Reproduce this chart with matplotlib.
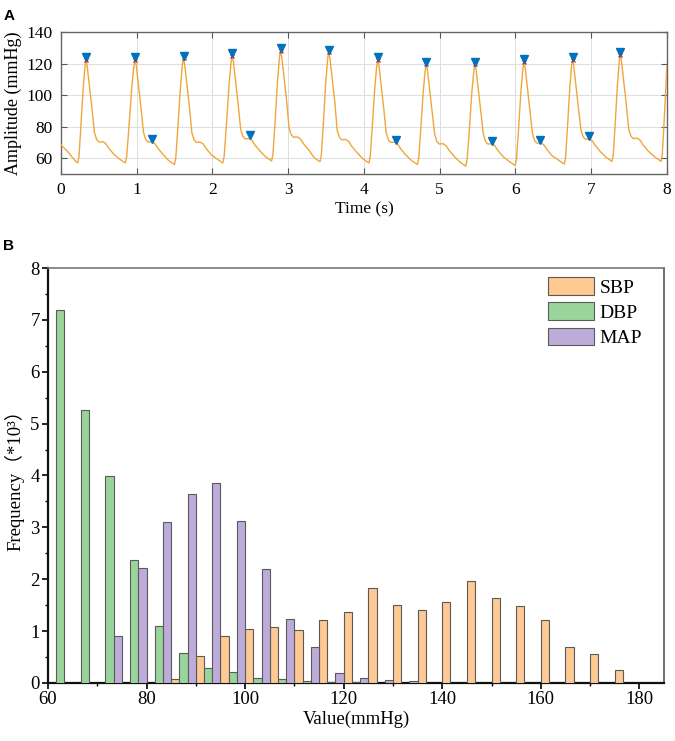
import matplotlib
matplotlib.use("Agg")
import matplotlib.pyplot as plt
import numpy as np

# ---------------- Panel A data ----------------
wave_t = [
    0.000, 0.050, 0.100, 0.150, 0.195,
    0.220, 0.237, 0.262, 0.292, 0.317, 0.331, 0.346, 0.376, 0.411, 0.441, 0.471, 0.501, 0.551, 0.591, 0.631, 0.701, 0.771, 0.821,
    0.847, 0.867, 0.897, 0.933, 0.962, 0.979, 0.994, 1.024, 1.059, 1.089, 1.119, 1.149, 1.199, 1.239, 1.279, 1.349, 1.421, 1.471,
    1.497, 1.515, 1.543, 1.576, 1.602, 1.618, 1.633, 1.663, 1.698, 1.728, 1.758, 1.788, 1.838, 1.878, 1.918, 1.988, 2.059, 2.109,
    2.135, 2.154, 2.183, 2.218, 2.245, 2.262, 2.277, 2.307, 2.342, 2.372, 2.402, 2.432, 2.482, 2.522, 2.562, 2.632, 2.704, 2.754,
    2.780, 2.798, 2.826, 2.858, 2.884, 2.900, 2.915, 2.945, 2.980, 3.010, 3.040, 3.070, 3.120, 3.160, 3.200, 3.270, 3.344, 3.394,
    3.420, 3.437, 3.464, 3.495, 3.521, 3.536, 3.551, 3.581, 3.616, 3.646, 3.676, 3.706, 3.756, 3.796, 3.836, 3.906, 3.989, 4.039,
    4.065, 4.083, 4.110, 4.142, 4.168, 4.184, 4.199, 4.229, 4.264, 4.294, 4.324, 4.354, 4.404, 4.444, 4.484, 4.554, 4.629, 4.679,
    4.705, 4.723, 4.750, 4.782, 4.808, 4.824, 4.839, 4.869, 4.904, 4.934, 4.964, 4.994, 5.044, 5.084, 5.124, 5.194, 5.268, 5.318,
    5.344, 5.362, 5.391, 5.424, 5.451, 5.467, 5.482, 5.512, 5.547, 5.577, 5.607, 5.637, 5.687, 5.727, 5.767, 5.837, 5.920, 5.970,
    5.996, 6.014, 6.041, 6.073, 6.099, 6.115, 6.130, 6.160, 6.195, 6.225, 6.255, 6.285, 6.335, 6.375, 6.415, 6.485, 6.569, 6.619,
    6.645, 6.662, 6.687, 6.717, 6.741, 6.755, 6.770, 6.800, 6.835, 6.865, 6.895, 6.925, 6.975, 7.015, 7.055, 7.125, 7.199, 7.249,
    7.275, 7.292, 7.317, 7.347, 7.371, 7.385, 7.400, 7.430, 7.465, 7.495, 7.525, 7.555, 7.605, 7.645, 7.685, 7.755, 7.847, 7.897,
    7.923, 7.938, 7.960, 7.985, 8.000,
]
wave_v = [
    68.5, 66.0, 63.5, 60.5, 58.0,
    57.0, 61.0, 79.9, 104.0, 118.3, 122.3, 118.3, 105.3, 90.3, 76.3, 71.8, 70.3, 70.5, 69.3, 66.3, 62.3, 59.5, 57.8,
    57.0, 61.0, 79.9, 104.2, 118.5, 122.5, 118.5, 105.5, 90.5, 76.3, 71.8, 70.3, 70.5, 69.3, 66.3, 62.3, 58.5, 56.8,
    56.0, 60.0, 79.6, 104.5, 119.3, 123.3, 119.3, 106.3, 91.3, 76.0, 71.5, 70.0, 70.2, 69.0, 66.0, 62.0, 59.5, 57.8,
    57.0, 61.0, 80.7, 105.8, 120.8, 124.8, 120.8, 107.8, 92.8, 78.3, 73.8, 72.3, 72.5, 71.3, 68.3, 64.3, 60.8, 59.1,
    58.3, 62.3, 82.7, 108.5, 124.0, 128.0, 124.0, 111.0, 96.0, 79.3, 74.8, 73.3, 73.5, 72.3, 69.3, 65.3, 60.3, 58.6,
    57.8, 61.8, 82.1, 107.8, 123.3, 127.3, 123.3, 110.3, 95.3, 77.7, 73.2, 71.7, 71.9, 70.7, 67.7, 63.7, 59.5, 57.8,
    57.0, 61.0, 79.9, 104.0, 118.3, 122.3, 118.3, 105.3, 90.3, 76.0, 71.5, 70.0, 70.2, 69.0, 66.0, 62.0, 58.5, 56.8,
    56.0, 60.0, 78.3, 101.8, 115.6, 119.6, 115.6, 102.6, 87.6, 75.0, 70.5, 69.0, 69.2, 68.0, 65.0, 61.0, 57.5, 55.8,
    55.0, 59.0, 77.6, 101.5, 115.6, 119.6, 115.6, 102.6, 87.6, 75.0, 70.5, 69.0, 69.2, 68.0, 65.0, 61.0, 57.9, 56.2,
    55.4, 59.4, 78.4, 102.6, 117.0, 121.0, 117.0, 104.0, 89.0, 75.5, 71.0, 69.5, 69.7, 68.5, 65.5, 61.5, 58.8, 57.1,
    56.3, 60.3, 79.5, 104.0, 118.5, 122.5, 118.5, 105.5, 90.5, 78.0, 73.5, 72.0, 72.2, 71.0, 68.0, 64.0, 60.5, 58.8,
    58.0, 62.0, 81.7, 106.7, 121.7, 125.7, 121.7, 108.7, 93.7, 78.5, 74.0, 72.5, 72.7, 71.5, 68.5, 64.5, 60.5, 58.8,
    58.0, 62.0, 80.0, 104.0, 118.0,
]
peak_t = [0.331, 0.979, 1.618, 2.262, 2.900, 3.536, 4.184, 4.824, 5.467, 6.115, 6.755, 7.385]
peak_v = [122.3, 122.5, 123.3, 124.8, 128.0, 127.3, 122.3, 119.6, 119.6, 121.0, 122.5, 125.7]
notch_t = [1.200, 2.500, 4.418, 5.697, 6.327, 6.975]
notch_v = [70.8, 73.0, 70.2, 69.3, 69.8, 72.4]

# ---------------- Panel B data ----------------
bin_start = [60, 65, 70, 75, 80, 85, 90, 95, 100, 105, 110, 115,
             120, 125, 130, 135, 140, 145, 150, 155, 160, 165, 170, 175]
sbp = [0, 0, 0, 0, 0, 0.07, 0.52, 0.91, 1.04, 1.07, 1.03, 1.22,
       1.36, 1.83, 1.51, 1.41, 1.57, 1.97, 1.63, 1.49, 1.22, 0.70, 0.55, 0.25]
dbp = [7.20, 5.27, 3.99, 2.38, 1.09, 0.57, 0.28, 0.22, 0.09, 0.07, 0.045, 0.01,
       0.02, 0, 0, 0, 0, 0, 0, 0, 0, 0, 0, 0]
map_ = [0, 0, 0.91, 2.21, 3.11, 3.64, 3.86, 3.13, 2.19, 1.23, 0.70, 0.20,
        0.10, 0.05, 0.03, 0, 0, 0, 0, 0, 0, 0, 0, 0]
series_names = ["SBP", "DBP", "MAP"]

SERIF = "Liberation Serif"
plt.rcParams["font.family"] = [SERIF, "DejaVu Sans"]

fig = plt.figure(figsize=(6.75, 7.41), dpi=100)

# ---------------- Panel A ----------------
axA = fig.add_axes([0.0904, 0.7652, 0.8976, 0.1916])
axA.plot(wave_t, wave_v, color="#EFA63C", lw=1.0, zorder=3)
axA.plot(peak_t, peak_v, linestyle="none", marker="x", color="#D62A2A",
         markersize=3.5, mew=1.0, zorder=4)
axA.plot(peak_t, np.array(peak_v) + 1.6, linestyle="none", marker="v",
         color="#0072BD", markersize=5.5, zorder=5)
axA.plot(notch_t, np.array(notch_v) + 1.6, linestyle="none", marker="v",
         color="#0072BD", markersize=5.5, zorder=5)
axA.set_xlim(0, 8)
axA.set_ylim(50, 140)
axA.set_xticks(range(0, 9))
axA.set_yticks([60, 80, 100, 120, 140])
axA.grid(True, color="#DDDDDD", lw=0.7)
axA.set_axisbelow(True)
axA.tick_params(direction="in", top=True, right=True, length=4,
                color="#555555", labelsize=12.5, pad=6)
for s in axA.spines.values():
    s.set_color("#666666")
    s.set_linewidth(1.0)
axA.set_xlabel("Time (s)", fontsize=12.5, labelpad=2)
axA.set_ylabel("Amplitude (mmHg)", fontsize=13, labelpad=3)

fig.text(0.005, 0.988, "A", fontsize=11, fontweight="bold",
         family="Liberation Sans", va="top", ha="left")
fig.text(0.005, 0.677, "B", fontsize=11, fontweight="bold",
         family="Liberation Sans", va="top", ha="left")

# ---------------- Panel B ----------------
axB = fig.add_axes([0.0711, 0.0783, 0.9126, 0.5600])
w = 5 / 3
colors = ["#FEC993", "#99D59A", "#BDABDA"]
for i, (name, vals, c) in enumerate(zip(series_names, [sbp, dbp, map_], colors)):
    vals = np.array(vals, dtype=float)
    pos = np.array(bin_start, dtype=float) + i * w
    keep = vals > 0
    axB.bar(pos[keep], vals[keep], width=w, align="edge",
            color=c, edgecolor="#5A5A5A", linewidth=0.8, label=name, zorder=3)
axB.set_xlim(60, 185)
axB.set_ylim(0, 8)
axB.set_xticks([60, 80, 100, 120, 140, 160, 180])
axB.set_xticks([70, 90, 110, 130, 150, 170], minor=True)
axB.set_yticks(range(0, 9))
axB.set_yticks(np.arange(0.5, 8, 1.0), minor=True)
axB.tick_params(which="major", direction="out", length=4, width=1.2,
                labelsize=13.5, pad=2)
axB.tick_params(which="minor", direction="out", length=2.5, width=1.0)
axB.spines["left"].set_linewidth(1.6)
axB.spines["bottom"].set_linewidth(1.6)
axB.spines["left"].set_color("#111111")
axB.spines["bottom"].set_color("#111111")
axB.spines["top"].set_color("#777777")
axB.spines["top"].set_linewidth(1.2)
axB.spines["right"].set_color("#555555")
axB.spines["right"].set_linewidth(1.2)
axB.set_xlabel("Value(mmHg)", fontsize=13.5, labelpad=2)
axB.set_ylabel("Frequency（*10³）", fontsize=13.5, labelpad=4,
               family=[SERIF, "Noto Sans CJK SC"])
leg = axB.legend(loc="upper left", bbox_to_anchor=(0.812, 0.978),
                 frameon=False, fontsize=14, handlelength=2.35,
                 handleheight=1.0, labelspacing=0.3, handletextpad=0.3,
                 borderpad=0, borderaxespad=0)

fig.savefig("out.png", dpi=100)
